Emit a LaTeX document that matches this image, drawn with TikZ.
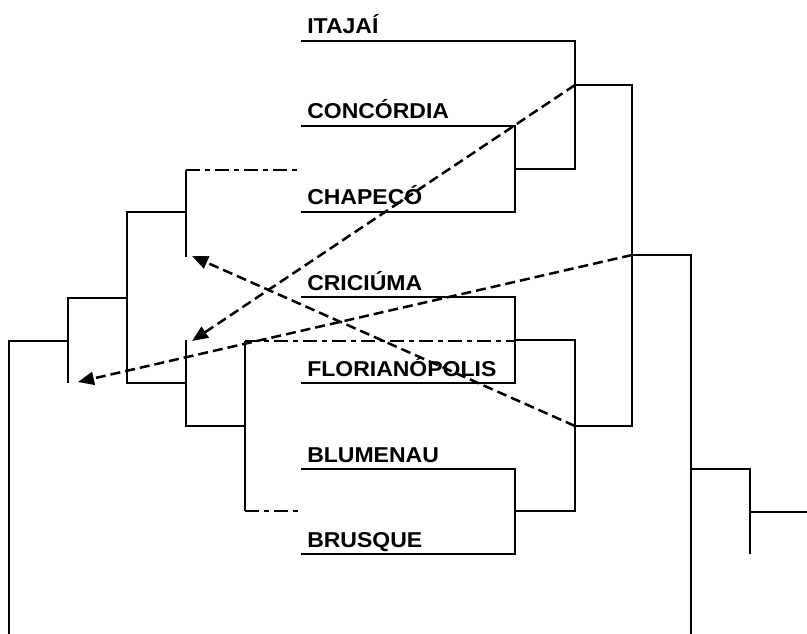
\documentclass[tikz,border=0pt]{standalone}
\usepackage{fontspec}
\newfontfamily\cityfont{Liberation Sans}[FakeStretch=1.07]
\usetikzlibrary{arrows.meta, calc}

\begin{document}
\begin{tikzpicture}[x=1bp, y=-1bp, line width=2.5bp,
	city/.style={anchor=base west, inner sep=0pt, font=\cityfont\fontsize{21.5bp}{25bp}\selectfont\bfseries},
	move/.style={dash pattern=on 10bp off 5bp, -{Triangle[length=16bp,width=13bp]}},
	lost/.style={dash pattern=on 14bp off 5bp on 5bp off 5bp}]
		\useasboundingbox (0,0) rectangle (807,634);

		\begin{scope}[every node/.style={city}]
		\node (itajai) at (306,34) {ITAJAÍ};
		\node (concordia) at (306,119) {CONCÓRDIA};
		\node (chapeco) at (306,205) {CHAPECÓ};
		\node (criciuma) at (306,290) {CRICIÚMA};
		\node (floripa) at (306,376) {FLORIANÓPOLIS};
		\node (blumenau) at (306,462) {BLUMENAU};
		\node (brusque) at (306,547) {BRUSQUE};
		\end{scope}

		\coordinate (l1) at (301,41);
		\coordinate (l2) at (301,126);
		\coordinate (l3) at (301,212);
		\coordinate (l4) at (301,297);
		\coordinate (l5) at (301,383);
		\coordinate (l6) at (301,469);
		\coordinate (l7) at (301,554);

		\coordinate (r1) at (515,169);
		\coordinate (r2) at (575,85);
		\coordinate (r3) at (515,340);
		\coordinate (r4) at (515,511);
		\coordinate (r5) at (575,426);
		\coordinate (r6) at (632,255);
		\coordinate (r7) at (691,634);
		\coordinate (r8) at (691,469);
		\coordinate (r9) at (750,512);
		\coordinate (r10) at (807,512);

		\coordinate (g1) at (186,170);
		\coordinate (g2) at (245,341);
		\coordinate (g3) at (245,511);
		\coordinate (p1) at (186,212);
		\coordinate (p2) at (186,340);
		\coordinate (p3) at (127,298);
		\coordinate (p4) at (68,341);
		\coordinate (p5) at (9,634);

		\coordinate (t1) at (192,256);
		\coordinate (t2) at (192,341);
		\coordinate (t3) at (78,382);

		\draw[-] (l2) -| (r1) |- (l3);
		\draw[-] (l1) -| (r2) |- (r1);
		\draw[-] (l4) -| (r3) |- (l5);
		\draw[-] (l6) -| (r4) |- (l7);
		\draw[-] (r3) -| (r5) |- (r4);
		\draw[-] (r2) -| (r6) |- (r5);
		\draw[-] (r6) -| (r7);
		\draw[-] (r8) -| (750,554);
		\draw[-] (r9) -- (r10);

		\draw[-] (g1) -- (186,257);
		\draw[-] (p1) -| (127,383) -- (186,383);
		\draw[-] (p2) |- (245,426);
		\draw[-] (g2) -- (g3);
		\draw[-] (p3) -| (68,383);
		\draw[-] (p4) -| (p5);

		\draw[lost] (g1) -- (l3 |- g1);
		\draw[lost] (g2) -- (r3 |- g2);
		\draw[lost] (g3) -- (l6 |- g3);

		\draw[move] (r2) -- (t2);
		\draw[move] (r5) -- (t1);
		\draw[move] (r6) -- (t3);
		\end{tikzpicture}
\end{document}
